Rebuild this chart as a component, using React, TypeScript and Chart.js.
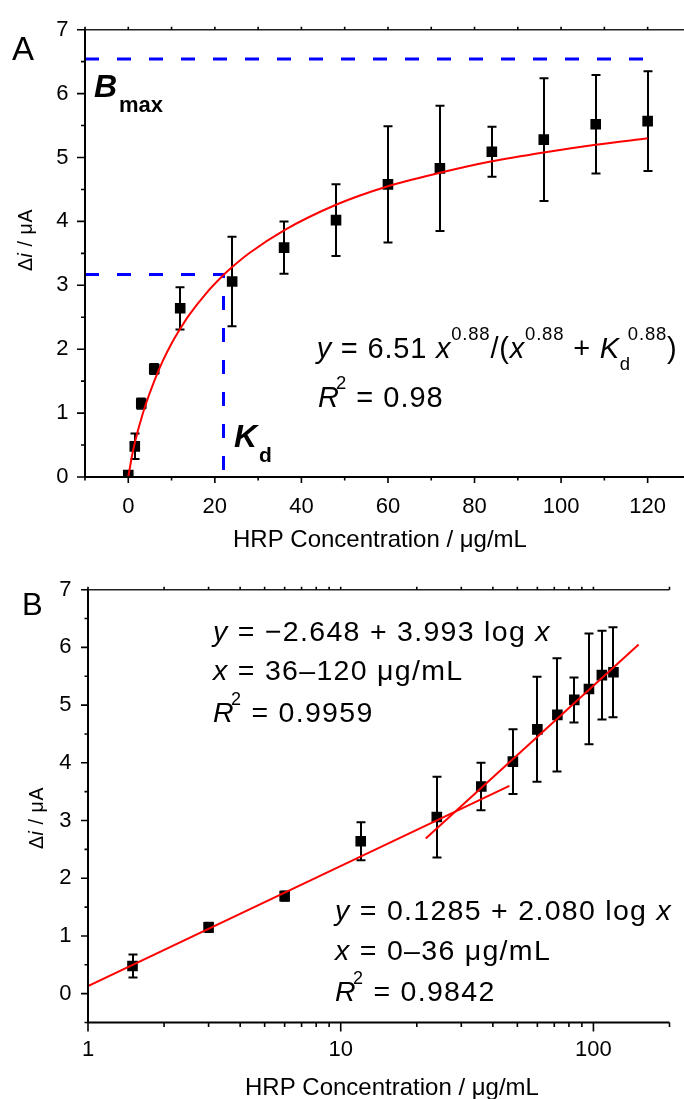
import React, { useEffect, useRef } from 'react';
import { Chart, registerables } from 'chart.js';
Chart.register(...registerables);

// ---------- data ----------
const HRP_CONC = [0, 1.5, 3, 6, 12, 24, 36, 48, 60, 72, 84, 96, 108, 120];
const DELTA_I = [0.03, 0.48, 1.15, 1.69, 2.64, 3.06, 3.59, 4.02, 4.58, 4.83, 5.09, 5.28, 5.52, 5.57];
const DELTA_I_SD = [0, 0.2, 0.08, 0.08, 0.33, 0.7, 0.41, 0.56, 0.91, 0.98, 0.39, 0.96, 0.77, 0.78];

// fitted saturation curve
const FIT_X = [0, 1, 2, 3, 4, 6, 8, 10, 12, 14, 18, 22, 24, 28, 36, 48, 60, 72, 84, 96, 108, 120];
const FIT_Y = [0, 0.38, 0.67, 0.91, 1.13, 1.5, 1.82, 2.09, 2.32, 2.53, 2.875, 3.16, 3.285, 3.505, 3.86, 4.26, 4.55, 4.76, 4.94, 5.08, 5.2, 5.3];

// guide lines (Bmax, Kd)
const BMAX_X = [-10, 120];
const BMAX_Y = [6.54, 6.54];
const KD_X = [-10, 22, 22];
const KD_Y = [3.17, 3.17, 0];

// semi-log linear fits (panel B)
const LOG_FIT_LOW_X = [1, 46.5];
const LOG_FIT_LOW_Y = [0.13, 3.6];
const LOG_FIT_HIGH_X = [21.7, 151];
const LOG_FIT_HIGH_Y = [2.69, 6.05];

// ticks
const X_TICKS_A = [-10, 0, 10, 20, 30, 40, 50, 60, 70, 80, 90, 100, 110, 120];
const X_LABELS_A = [0, 20, 40, 60, 80, 100, 120];
const Y_TICKS_A = [0, 0.5, 1, 1.5, 2, 2.5, 3, 3.5, 4, 4.5, 5, 5.5, 6, 6.5, 7];
const Y_LABELS = [0, 1, 2, 3, 4, 5, 6, 7];
const X_TICKS_B = [1, 2, 3, 4, 5, 6, 7, 8, 9, 10, 20, 30, 40, 50, 60, 70, 80, 90, 100, 200];
const X_LABELS_B = [1, 10, 100];
const Y_TICKS_B = [-0.5, 0, 0.5, 1, 1.5, 2, 2.5, 3, 3.5, 4, 4.5, 5, 5.5, 6, 6.5, 7];

// ---------- text helpers ----------
const FAM = '"Liberation Sans", Arial, Helvetica, sans-serif';
function font(style: string, size: number) {
  const pre = style === 'i' ? 'italic ' : style === 'b' ? 'bold ' : style === 'bi' ? 'italic bold ' : '';
  return `${pre}${size}px ${FAM}`;
}
type Run = { t: string; f?: string; s?: number; dy?: number; dx?: number; noAdv?: boolean };

function runsWidth(ctx: CanvasRenderingContext2D, runs: Run[], base: number) {
  let w = 0;
  for (const r of runs) {
    w += r.dx || 0;
    ctx.font = font(r.f || 'n', r.s || base);
    if (!r.noAdv) w += ctx.measureText(r.t).width;
  }
  return w;
}

function drawRuns(ctx: CanvasRenderingContext2D, runs: Run[], x: number, y: number, base: number, ls = 0, center = false) {
  ctx.save();
  ctx.fillStyle = '#000';
  ctx.textAlign = 'left';
  ctx.textBaseline = 'alphabetic';
  (ctx as any).letterSpacing = `${ls}px`;
  let cx = x;
  if (center) cx = x - runsWidth(ctx, runs, base) / 2;
  for (const r of runs) {
    cx += r.dx || 0;
    ctx.font = font(r.f || 'n', r.s || base);
    ctx.fillText(r.t, cx, y + (r.dy || 0));
    if (!r.noAdv) cx += ctx.measureText(r.t).width;
  }
  ctx.restore();
}

// ---------- decoration plugin: frame, ticks, error bars, annotations ----------
type Decor = {
  offY: number;
  xTicks: number[];
  xMajor: number[];
  xMajorLen: number;
  xMinorLen: number;
  yTicks: number[];
  yMajor: number[];
  yMajorLen: number;
  yMinorLen: number;
  texts: (ctx: CanvasRenderingContext2D) => void;
};

function makeDecor(d: Decor) {
  return {
    id: 'decor',
    beforeDatasetsDraw(chart: any) {
      const ctx: CanvasRenderingContext2D = chart.ctx;
      const xs = chart.scales.x;
      const ys = chart.scales.y;
      chart.data.datasets.forEach((ds: any) => {
        if (!ds.errors) return;
        ctx.save();
        ctx.strokeStyle = '#000';
        ctx.lineWidth = 2;
        ds.data.forEach((p: any, i: number) => {
          const e = ds.errors[i];
          if (!e) return;
          const px = Math.round(xs.getPixelForValue(p.x));
          const t = ys.getPixelForValue(p.y + e);
          const b = ys.getPixelForValue(p.y - e);
          ctx.beginPath();
          ctx.moveTo(px, t);
          ctx.lineTo(px, b);
          ctx.moveTo(px - 4.5, t);
          ctx.lineTo(px + 4.5, t);
          ctx.moveTo(px - 4.5, b);
          ctx.lineTo(px + 4.5, b);
          ctx.stroke();
        });
        ctx.restore();
      });
    },
    afterDraw(chart: any) {
      const ctx: CanvasRenderingContext2D = chart.ctx;
      const { left, top, right, bottom } = chart.chartArea;
      const xs = chart.scales.x;
      const ys = chart.scales.y;
      ctx.save();
      // frame
      ctx.strokeStyle = '#000';
      ctx.lineWidth = 2;
      ctx.beginPath();
      ctx.moveTo(left, top - 1);
      ctx.lineTo(left, bottom);
      ctx.lineTo(right, bottom);
      ctx.stroke();
      ctx.lineWidth = 1.5;
      ctx.strokeStyle = '#222';
      ctx.beginPath();
      ctx.moveTo(left, top);
      ctx.lineTo(right, top);
      ctx.stroke();
      // ticks
      ctx.strokeStyle = '#000';
      ctx.lineWidth = 1.6;
      ctx.beginPath();
      d.xTicks.forEach((v) => {
        const px = xs.getPixelForValue(v);
        const len = d.xMajor.includes(v) ? d.xMajorLen : d.xMinorLen;
        ctx.moveTo(px, bottom);
        ctx.lineTo(px, bottom + len);
        ctx.moveTo(px, top);
        ctx.lineTo(px, top - 3);
      });
      d.yTicks.forEach((v) => {
        const py = ys.getPixelForValue(v);
        const len = d.yMajor.includes(v) ? d.yMajorLen : d.yMinorLen;
        ctx.moveTo(left, py);
        ctx.lineTo(left - len, py);
      });
      ctx.stroke();
      ctx.restore();
      // texts in page coordinates
      ctx.save();
      ctx.translate(0, -d.offY);
      d.texts(ctx);
      ctx.restore();
    },
  };
}

function yTitle(ctx: CanvasRenderingContext2D, bx: number, cy: number) {
  ctx.save();
  ctx.translate(bx, cy);
  ctx.rotate(-Math.PI / 2);
  drawRuns(ctx, [{ t: 'Δ' }, { t: 'i', f: 'i' }, { t: ' / μA' }], 0, 0, 19.5, 0.6, true);
  ctx.restore();
}

const tickFont = { family: FAM, size: 22 };

function baseOptions(padTop: number) {
  return {
    responsive: false,
    animation: false,
    devicePixelRatio: 1,
    events: [],
    layout: { padding: { top: padTop, left: 0, right: 0, bottom: 0 }, autoPadding: false },
    plugins: { legend: { display: false }, tooltip: { enabled: false } },
  };
}

function configA() {
  const points = HRP_CONC.map((x, i) => ({ x, y: DELTA_I[i] }));
  const fit = FIT_X.map((x, i) => ({ x, y: FIT_Y[i] }));
  const bmax = BMAX_X.map((x, i) => ({ x, y: BMAX_Y[i] }));
  const kd = KD_X.map((x, i) => ({ x, y: KD_Y[i] }));
  const decor = makeDecor({
    offY: 0,
    xTicks: X_TICKS_A,
    xMajor: X_LABELS_A,
    xMajorLen: 6,
    xMinorLen: 3.5,
    yTicks: Y_TICKS_A,
    yMajor: Y_LABELS,
    yMajorLen: 8,
    yMinorLen: 4,
    texts: (ctx) => {
      drawRuns(ctx, [{ t: 'A' }], 12, 60, 33);
      drawRuns(ctx, [{ t: 'B', f: 'bi' }], 94, 97, 32);
      drawRuns(ctx, [{ t: 'max', f: 'b' }], 119, 112, 22);
      drawRuns(ctx, [{ t: 'K', f: 'bi' }], 234, 447, 32);
      drawRuns(ctx, [{ t: 'd', f: 'b' }], 259, 462, 21);
      const sm = 18.5;
      drawRuns(
        ctx,
        [
          { t: 'y', f: 'i' },
          { t: ' = 6.51 ' },
          { t: 'x', f: 'i' },
          { t: '0.88', s: sm, dy: -18 },
          { t: '/(' },
          { t: 'x', f: 'i' },
          { t: '0.88', s: sm, dy: -18 },
          { t: ' + ' },
          { t: 'K', f: 'i' },
          { t: 'd', s: sm, dy: 12, noAdv: true },
          { t: '0.88', s: sm, dy: -18, dx: 8 },
          { t: ')' },
        ],
        316.7,
        358,
        29,
        0.8
      );
      drawRuns(ctx, [{ t: 'R', f: 'i' }, { t: '2', s: sm, dy: -18, dx: -4 }, { t: ' = 0.98' }], 318, 406.7, 29, 1);
      drawRuns(ctx, [{ t: 'HRP Concentration / μg/mL' }], 233, 547, 24);
      yTitle(ctx, 32, 240);
    },
  });
  const o: any = baseOptions(24);
  return {
    type: 'scatter' as const,
    data: {
      datasets: [
        { data: fit, showLine: true, borderColor: '#ff0000', borderWidth: 2, pointRadius: 0, cubicInterpolationMode: 'monotone', order: 0 },
        { data: points, errors: DELTA_I_SD, showLine: false, pointStyle: 'rect', pointRadius: 7.5, backgroundColor: '#000', borderWidth: 0, order: 1 },
        { data: bmax, showLine: true, borderColor: '#0000ff', borderWidth: 3, borderDash: [14, 18], pointRadius: 0, order: 2 },
        { data: kd, showLine: true, borderColor: '#0000ff', borderWidth: 3, borderDash: [14, 18], pointRadius: 0, borderJoinStyle: 'miter', order: 2 },
      ],
    },
    options: {
      ...o,
      scales: {
        x: {
          type: 'linear',
          min: -10,
          max: 128.4,
          afterBuildTicks: (s: any) => {
            s.ticks = X_TICKS_A.map((v) => ({ value: v }));
          },
          afterFit: (s: any) => {
            s.height = 560 - 477;
          },
          grid: { display: false, drawTicks: false },
          border: { display: false },
          ticks: {
            autoSkip: false,
            maxRotation: 0,
            padding: 16.5,
            color: '#000',
            font: tickFont,
            callback: (v: number) => (X_LABELS_A.includes(v) ? String(v) : ''),
          },
        },
        y: {
          type: 'linear',
          min: 0,
          max: 7,
          afterBuildTicks: (s: any) => {
            s.ticks = Y_TICKS_A.map((v) => ({ value: v }));
          },
          afterFit: (s: any) => {
            s.width = 85;
          },
          grid: { display: false, drawTicks: false },
          border: { display: false },
          ticks: {
            autoSkip: false,
            padding: 16.5,
            color: '#000',
            font: tickFont,
            callback: (v: number) => (Y_LABELS.includes(v) ? String(v) : ''),
          },
        },
      },
    },
    plugins: [decor],
  };
}

function configB() {
  const TOP = 560;
  const points = HRP_CONC.slice(1).map((x, i) => ({ x, y: DELTA_I[i + 1] }));
  const low = LOG_FIT_LOW_X.map((x, i) => ({ x, y: LOG_FIT_LOW_Y[i] }));
  const high = LOG_FIT_HIGH_X.map((x, i) => ({ x, y: LOG_FIT_HIGH_Y[i] }));
  const decor = makeDecor({
    offY: TOP,
    xTicks: X_TICKS_B,
    xMajor: X_LABELS_B,
    xMajorLen: 9,
    xMinorLen: 4.5,
    yTicks: Y_TICKS_B,
    yMajor: Y_LABELS,
    yMajorLen: 7,
    yMinorLen: 3.5,
    texts: (ctx) => {
      drawRuns(ctx, [{ t: 'B' }], 22, 615, 31);
      const sm = 18;
      const b = 28.5;
      const ls = 1.3;
      drawRuns(ctx, [{ t: 'y', f: 'i' }, { t: ' = −2.648 + 3.993 log ' }, { t: 'x', f: 'i' }], 213, 640.5, b, ls);
      drawRuns(ctx, [{ t: 'x', f: 'i' }, { t: ' = 36–120 μg/mL' }], 213, 680, b, ls);
      drawRuns(ctx, [{ t: 'R', f: 'i' }, { t: '2', s: sm, dy: -17, dx: -4 }, { t: ' = 0.9959' }], 213, 722, b, ls);
      drawRuns(ctx, [{ t: 'y', f: 'i' }, { t: ' = 0.1285 + 2.080 log ' }, { t: 'x', f: 'i' }], 335, 920, b, ls);
      drawRuns(ctx, [{ t: 'x', f: 'i' }, { t: ' = 0–36 μg/mL' }], 335, 960, b, ls);
      drawRuns(ctx, [{ t: 'R', f: 'i' }, { t: '2', s: sm, dy: -17, dx: -4 }, { t: ' = 0.9842' }], 335, 1001, b, ls);
      drawRuns(ctx, [{ t: 'HRP Concentration / μg/mL' }], 245, 1095, 24);
      yTitle(ctx, 43, 818);
    },
  });
  const o: any = baseOptions(582.5 - TOP);
  return {
    type: 'scatter' as const,
    data: {
      datasets: [
        { data: low, showLine: true, borderColor: '#ff0000', borderWidth: 2, pointRadius: 0, order: 0 },
        { data: high, showLine: true, borderColor: '#ff0000', borderWidth: 2, pointRadius: 0, order: 0 },
        { data: points, errors: DELTA_I_SD.slice(1), showLine: false, pointStyle: 'rect', pointRadius: 7.5, backgroundColor: '#000', borderWidth: 0, order: 1 },
      ],
    },
    options: {
      ...o,
      scales: {
        x: {
          type: 'logarithmic',
          min: 1,
          max: 200,
          afterBuildTicks: (s: any) => {
            s.ticks = X_TICKS_B.map((v) => ({ value: v }));
          },
          afterFit: (s: any) => {
            s.height = 539 - (1022.5 - TOP);
          },
          grid: { display: false, drawTicks: false },
          border: { display: false },
          ticks: {
            autoSkip: false,
            maxRotation: 0,
            padding: 14.5,
            color: '#000',
            font: tickFont,
            callback: (v: number) => (X_LABELS_B.includes(v) ? String(v) : ''),
          },
        },
        y: {
          type: 'linear',
          min: -0.5,
          max: 7,
          afterBuildTicks: (s: any) => {
            s.ticks = Y_TICKS_B.map((v) => ({ value: v }));
          },
          afterFit: (s: any) => {
            s.width = 88;
          },
          grid: { display: false, drawTicks: false },
          border: { display: false },
          ticks: {
            autoSkip: false,
            padding: 16.5,
            color: '#000',
            font: tickFont,
            callback: (v: number) => (Y_LABELS.includes(v) ? String(v) : ''),
          },
        },
      },
    },
    plugins: [decor],
  };
}

export default function App() {
  const refA = useRef<HTMLCanvasElement>(null);
  const refB = useRef<HTMLCanvasElement>(null);
  useEffect(() => {
    const a = new Chart(refA.current as HTMLCanvasElement, configA() as any);
    const b = new Chart(refB.current as HTMLCanvasElement, configB() as any);
    return () => {
      a.destroy();
      b.destroy();
    };
  }, []);
  return (
    <div style={{ position: 'absolute', left: 0, top: 0, width: 684, height: 1099, background: '#fff', overflow: 'hidden' }}>
      <canvas ref={refA} width={684} height={560} style={{ position: 'absolute', left: 0, top: 0, width: 684, height: 560 }} />
      <canvas ref={refB} width={684} height={539} style={{ position: 'absolute', left: 0, top: 560, width: 684, height: 539 }} />
    </div>
  );
}
